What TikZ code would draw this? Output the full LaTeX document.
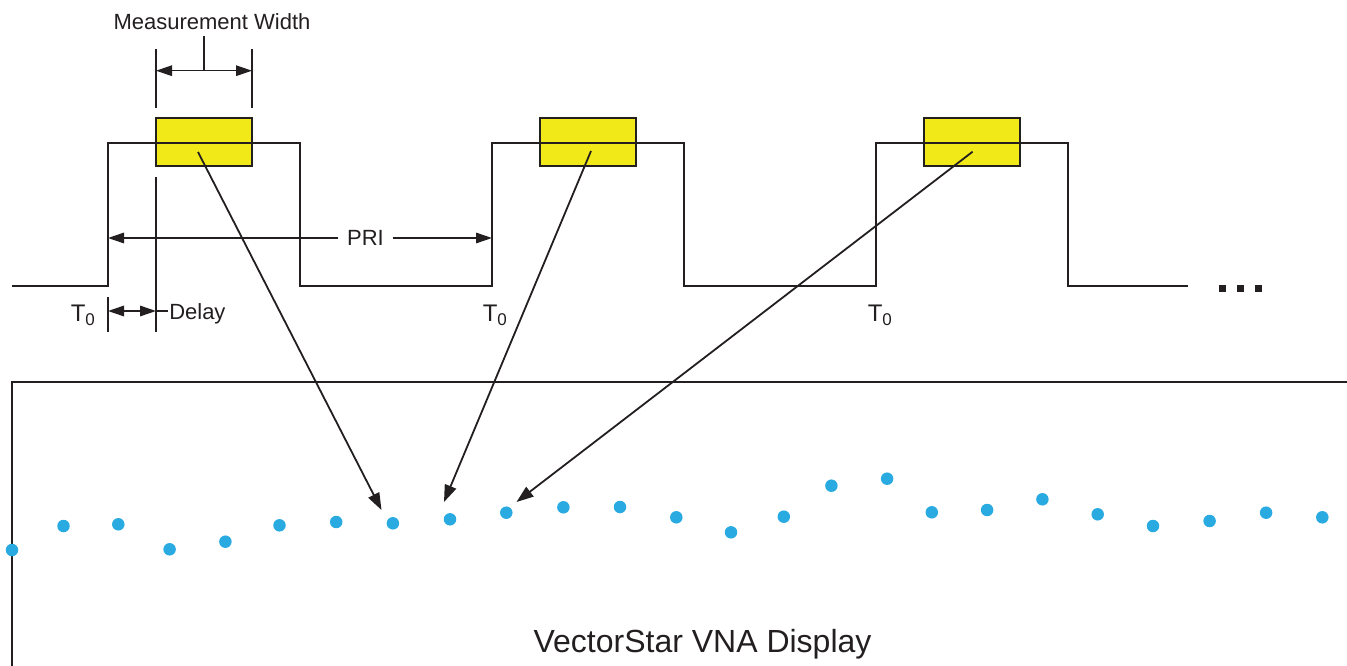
\documentclass[tikz,border=0pt]{standalone}
\usepackage{fontspec}
\setmainfont{Liberation Sans}
\usetikzlibrary{arrows.meta}
\definecolor{ink}{RGB}{35,31,32}
\definecolor{pulseyellow}{RGB}{242,233,24}
\definecolor{dotblue}{RGB}{41,171,226}
\begin{document}
\begin{tikzpicture}[x=1pt,y=-1pt,line width=1.5pt,draw=ink,
  wave/.style={line width=2pt},
  tipend/.style={-{Triangle[length=16pt,width=10.5pt]}},
  tipboth/.style={{Triangle[length=16pt,width=10.5pt]}-{Triangle[length=16pt,width=10.5pt]}},
  lbl/.style={inner sep=0pt,text=ink,font=\fontsize{22}{26}\selectfont},
  tlbl/.style={inner sep=0pt,text=ink,font=\fontsize{24}{28}\selectfont},
  gatebox/.style={draw=ink,fill=pulseyellow,line width=2pt,minimum width=96pt,minimum height=48pt,inner sep=0pt},
  sample/.style={circle,fill=dotblue,draw=none,minimum size=12.5pt,inner sep=0pt},
  ellip/.style={fill=ink,draw=none,minimum size=7pt,inner sep=0pt},
  pointer/.style={line width=1.8pt,-{Triangle[length=17pt,width=12pt]}}]
\useasboundingbox (0,0) rectangle (1347,666);
% gate boxes
\node[gatebox] (b1) at (204,142) {};
\node[gatebox] (b2) at (588,142) {};
\node[gatebox] (b3) at (972,142) {};
% pulse train
\draw[wave] (12,286) -| (108,143) -| (300,286) -| (492,143) -| (684,286) -| (876,143) -| (1068,286) -- (1188,286);
\node[ellip] (e1) at (1222.5,288.5) {};
\node[ellip] (e2) at (1240.5,288.5) {};
\node[ellip] (e3) at (1258.5,288.5) {};
% measurement width dimension
\coordinate (mwL) at (156,70.7);
\coordinate (mwR) at (252,70.7);
\draw[wave] (156,49) -- (156,108);
\draw[wave] (252,49) -- (252,108);
\draw[wave] (156,177) -- (156,332);
\draw[tipboth] (mwL) -- (mwR);
\draw (204,36) -- (204,70.7);
\node[lbl,anchor=base] (mw) at (212,29.5) {Measurement Width};
% PRI
\coordinate (priL) at (108,238);
\coordinate (priR) at (492,238);
\node[lbl,inner xsep=8pt] (pri) at (365.5,238) {PRI};
\draw[tipend] (pri.west) -- (priL);
\draw[tipend] (pri.east) -- (priR);
% delay
\draw[wave] (108,297) -- (108,332);
\coordinate (dL) at (108,311);
\coordinate (dR) at (156,311);
\draw[tipboth] (dL) -- (dR);
\draw (156,311) -- (168,311);
\node[lbl,anchor=base west] (delay) at (168.5,319.3) {Delay};
% T0 labels
\node[tlbl,anchor=base west] (t01) at (70,321.7) {T\raisebox{-3.5pt}{\fontsize{17}{17}\selectfont 0}};
\node[tlbl,anchor=base west] (t02) at (482,321.7) {T\raisebox{-3.5pt}{\fontsize{17}{17}\selectfont 0}};
\node[tlbl,anchor=base west] (t03) at (867,321.7) {T\raisebox{-3.5pt}{\fontsize{17}{17}\selectfont 0}};
% display frame
\draw[wave] (1347,382) -- (12,382) -- (12,666);
\node[lbl,anchor=base,font=\fontsize{32}{36}\selectfont] (disp) at (702.5,652) {VectorStar VNA Display};
% samples
\foreach \i/\x/\y in {1/12/550,2/63.5/526,3/118.3/524.3,4/169.6/549.3,5/225.4/541.7,6/279.5/525.3,7/336.2/522,8/392.9/523.3,9/450/519.3,10/506.3/512.7,11/563.4/507.3,12/620/507,13/676.3/517.3,14/731/532.3,15/783.8/516.7,16/831.4/485.7,17/887.1/478.7,18/931.8/512.3,19/987.1/510,20/1042.4/499.3,21/1097.7/514.3,22/1153/526,23/1209.6/521,24/1266.1/512.7,25/1322.3/517.3}
  \node[sample] (d\i) at (\x,\y) {};
% pointers
\coordinate (s1) at (198,152);
\coordinate (s2) at (591,151);
\coordinate (s3) at (972.6,151.7);
\coordinate (p1) at (381.5,510);
\coordinate (p2) at (444,502);
\coordinate (p3) at (516.5,502);
\draw[pointer] (s1) -- (p1);
\draw[pointer] (s2) -- (p2);
\draw[pointer] (s3) -- (p3);
\end{tikzpicture}
\end{document}
